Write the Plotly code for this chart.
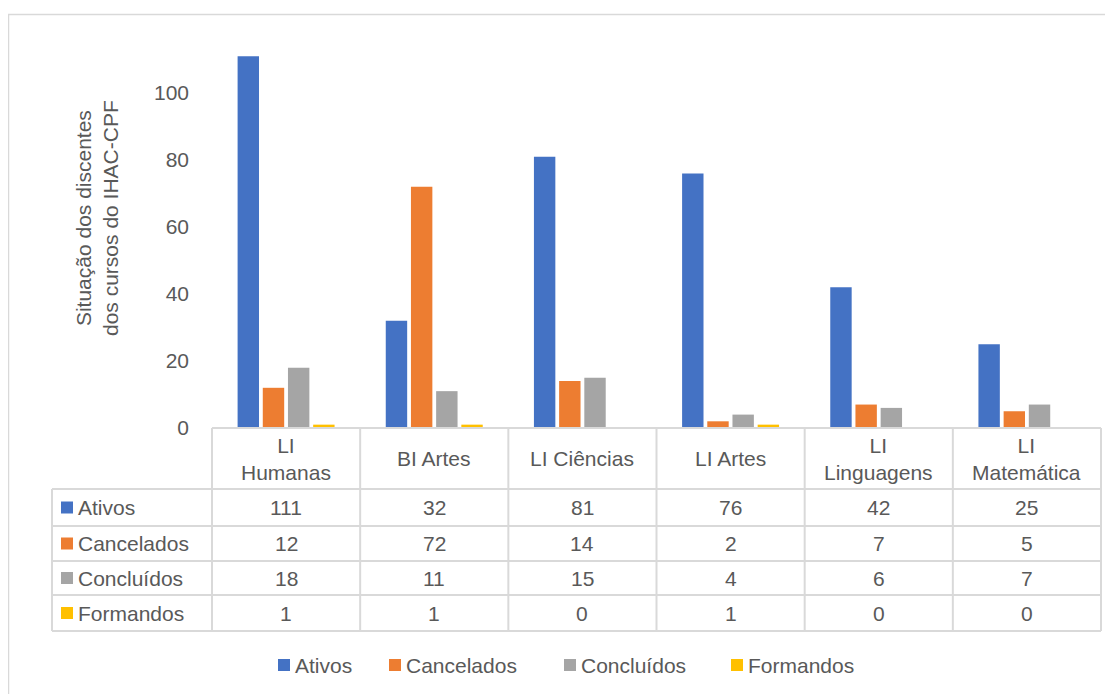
import plotly.graph_objects as go

W, H = 1113, 694
OFFX, OFFY = 8, 8  # default page body margin
FW, FH = W - 2 * OFFX, H - OFFY

categories = ["LI Humanas", "BI Artes", "LI Ciências", "LI Artes", "LI Linguagens", "LI Matemática"]
header_labels = ["LI<br>Humanas", "BI Artes", "LI Ciências", "LI Artes", "LI<br>Linguagens", "LI<br>Matemática"]
series_names = ["Ativos", "Cancelados", "Concluídos", "Formandos"]
ativos = [111, 32, 81, 76, 42, 25]
cancelados = [12, 72, 14, 2, 7, 5]
concluidos = [18, 11, 15, 4, 6, 7]
formandos = [1, 1, 0, 1, 0, 0]
series_values = [ativos, cancelados, concluidos, formandos]
colors = ["#4472C4", "#ED7D31", "#A5A5A5", "#FFC000"]
y_ticks = [0, 20, 40, 60, 80, 100]
y_title = "Situação dos discentes<br>dos cursos do IHAC-CPF"

FONT = "Liberation Sans, Arial, sans-serif"
TXT = "#595959"
GRID = "#D9D9D9"
FS = 21


def px(x):
    return (x - OFFX) / FW


def py(y):
    return 1 - (y - OFFY) / FH


# layout geometry (screen pixels)
PL, PR = 212, 1101
PT, PB = 26, 428
TL = 52
row_lines = [489, 526, 561, 595, 631]
legend_y = 665
legend_key_x = [278, 389, 564, 731]

fig = go.Figure()
for name, vals, col in zip(series_names, series_values, colors):
    fig.add_trace(go.Bar(x=categories, y=vals, name=name, marker=dict(color=col, line=dict(width=0))))

shapes = []
annotations = []

# outer chart border
shapes.append(dict(type="rect", xref="paper", yref="paper", x0=px(8.5), x1=px(1125), y0=py(720), y1=py(14.5),
                   line=dict(color=GRID, width=1.5), fillcolor="rgba(0,0,0,0)", layer="below"))
# table: top line (axis)
shapes.append(dict(type="line", xref="paper", yref="paper", x0=px(PL), x1=px(PR), y0=py(PB), y1=py(PB),
                   line=dict(color=GRID, width=2)))
# horizontal row lines
for yl in row_lines:
    shapes.append(dict(type="line", xref="paper", yref="paper", x0=px(TL), x1=px(PR), y0=py(yl), y1=py(yl),
                       line=dict(color=GRID, width=2)))
# left border of label column
shapes.append(dict(type="line", xref="paper", yref="paper", x0=px(TL), x1=px(TL), y0=py(row_lines[0]), y1=py(row_lines[-1]),
                   line=dict(color=GRID, width=2)))
# vertical column lines
ncat = len(categories)
for i in range(ncat + 1):
    xv = PL + (PR - PL) * i / ncat
    shapes.append(dict(type="line", xref="paper", yref="paper", x0=px(xv), x1=px(xv), y0=py(PB), y1=py(row_lines[-1]),
                       line=dict(color=GRID, width=2)))

# header labels
for cat, lab in zip(categories, header_labels):
    annotations.append(dict(x=cat, xref="x", y=py((PB + row_lines[0]) / 2), yref="paper", text=lab,
                            showarrow=False, xanchor="center", yanchor="middle",
                            font=dict(family=FONT, size=FS, color=TXT)))

# table rows
for r, (name, vals, col) in enumerate(zip(series_names, series_values, colors)):
    yc = (row_lines[r] + row_lines[r + 1]) / 2
    shapes.append(dict(type="rect", xref="paper", yref="paper", x0=px(61), x1=px(73), y0=py(yc + 6), y1=py(yc - 6),
                       line=dict(width=0), fillcolor=col))
    annotations.append(dict(x=px(76), xref="paper", y=py(yc), yref="paper", text=name, showarrow=False,
                            xanchor="left", yanchor="middle", font=dict(family=FONT, size=FS, color=TXT)))
    for cat, v in zip(categories, vals):
        annotations.append(dict(x=cat, xref="x", y=py(yc), yref="paper", text=str(v), showarrow=False,
                                xanchor="center", yanchor="middle", font=dict(family=FONT, size=FS, color=TXT)))

# legend (drawn like the Excel legend: small square + label)
for name, col, kx in zip(series_names, colors, legend_key_x):
    shapes.append(dict(type="rect", xref="paper", yref="paper", x0=px(kx), x1=px(kx + 12),
                       y0=py(legend_y + 6), y1=py(legend_y - 6), line=dict(width=0), fillcolor=col))
    annotations.append(dict(x=px(kx + 15), xref="paper", y=py(legend_y), yref="paper", text=name, showarrow=False,
                            xanchor="left", yanchor="middle", font=dict(family=FONT, size=FS, color=TXT)))

# y axis title
annotations.append(dict(x=px(97), xref="paper", y=py(218), yref="paper", text=y_title, showarrow=False,
                        textangle=-90, xanchor="center", yanchor="middle",
                        font=dict(family=FONT, size=FS, color=TXT)))

fig.update_layout(
    width=FW, height=FH,
    margin=dict(l=0, r=0, t=0, b=0),
    paper_bgcolor="white", plot_bgcolor="white",
    barmode="group", bargap=0.32, bargroupgap=0.15,
    showlegend=False,
    font=dict(family=FONT, size=FS, color=TXT),
    xaxis=dict(domain=[px(PL), px(PR)], showticklabels=False, showline=False, showgrid=False,
               zeroline=False, ticks="", automargin=False),
    yaxis=dict(domain=[py(PB), py(PT)], range=[0, 120], tickvals=y_ticks, showgrid=False,
               zeroline=False, showline=False, ticks="", ticklabelstandoff=22, automargin=False,
               tickfont=dict(family=FONT, size=FS, color=TXT)),
    shapes=shapes, annotations=annotations,
)

fig.write_html("out.html")
